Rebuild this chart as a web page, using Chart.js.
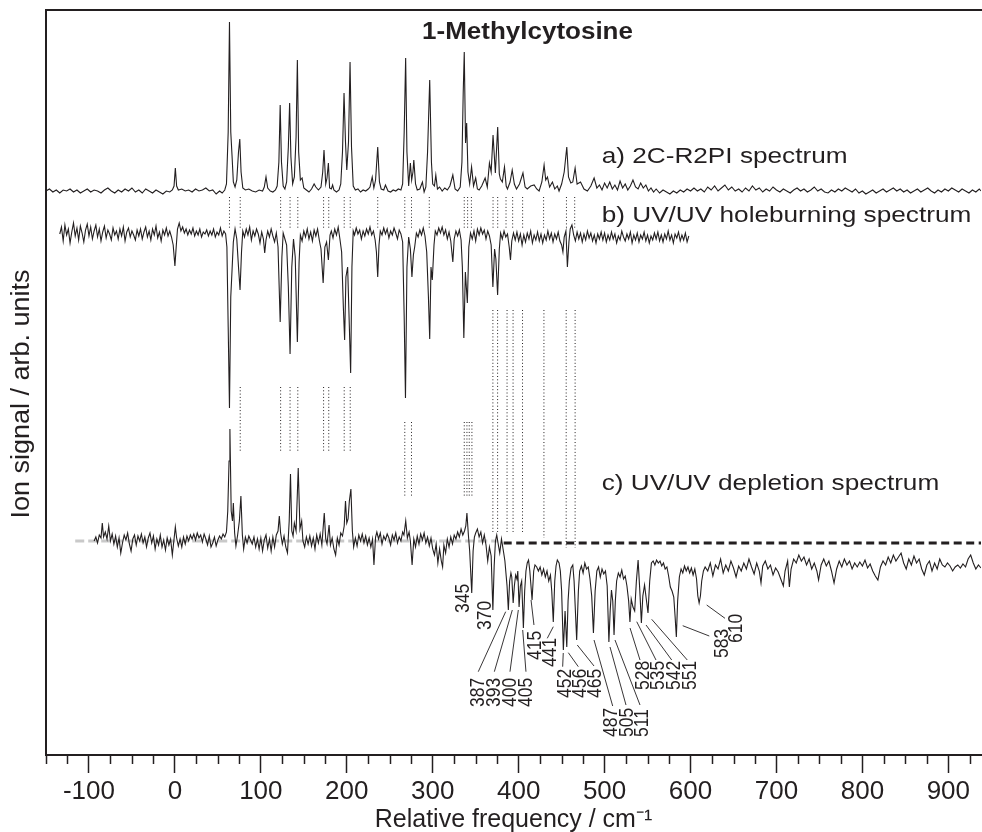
<!DOCTYPE html>
<html>
<head>
<meta charset="utf-8">
<script src="https://cdn.jsdelivr.net/npm/chart.js@4.4.0/dist/chart.umd.min.js"></script>
<style>
  html, body { margin: 0; padding: 0; background: #ffffff; }
  #wrap { width: 982px; height: 832px; }
</style>
</head>
<body>
<div id="wrap"><canvas id="c" width="982" height="832"></canvas></div>
<script>
// ---------------- DATA (frequency in cm-1, signal relative to each trace's own baseline) ----------------
// a) 2C-R2PI spectrum
const r2piSpectrum = [
[-150,1],[-146,3],[-142,0],[-138,2],[-134,-1],[-130,2],[-126,1],[-122,3],[-118,0],[-114,2],[-110,-1],[-106,1],[-102,3],[-98,0],[-94,2],[-90,1],[-86,-1],[-82,2],[-78,4],[-74,1],[-70,-1],[-66,2],[-62,0],[-58,3],[-54,1],[-50,4],[-46,0],[-42,2],[-38,-1],[-34,3],[-30,1],[-26,-1],[-22,2],[-18,0],[-14,-2],[-10,1],[-6,0],[-3,2],
[-1,6],[0.5,24],[2,6],[4,2],[8,3],[12,1],[16,2],[20,0],[24,3],[28,1],[32,2],[36,4],[40,1],[44,2],[48,-2],[52,1],[55,-1],[58,2],
[60,8],[62,60],[63.5,170],[65,60],[66.5,36],[68,10],[70,5],[72,12],[74,40],[75.5,53],[77,20],[79,4],[82,2],[86,3],[90,1],[94,0],[98,2],[102,1],[104,5],[106,15],[108,4],[111,1],[114,0],[117,2],[119,6],[121,30],[122.5,87],[124,30],[126,6],[128,3],[130,10],[132,45],[133.5,89],[135,35],[137,8],[139,15],[141,55],[142.5,132],[144,40],[146,12],[148,14],[150,4],[153,2],[156,0],[159,3],[162,8],[164,5],[167,2],[170,5],[172,20],[173.5,42],[175.5,8],[177,14],[178.6,29],[180,4],[182,3],[183.5,7],[185,2],[188,0],[191,2],[193,8],[195,40],[196.8,99],[198.5,50],[200,22],[202,50],[203.8,130],[205.5,45],[207.5,6],[210,2],[213,3],[216,0],[219,2],[222,1],[225,3],[227,5],[229.6,15],[231.5,4],[233.5,12],[236,45],[238,10],[240,3],[243,2],[245,7],[248,1],[251,0],[254,2],[257,1],[260,3],[263,2],[265,8],[266.8,60],[268.5,134],[270,40],[272,6],[274,29],[275.5,12],[277,20],[278,32],[280,8],[282,2],[285,3],[288,10],[290,0],[292,5],[294,40],[296.5,112],[298.5,30],[300,8],[302,6],[303.6,17],[305.5,3],[308,5],[311,1],[314,4],[317,2],[320,6],[323.4,17],[326,3],[329,1],[332,5],[334,30],[335.5,100],[336.7,140],[338.2,49],[339.5,69],[341,20],[343,8],[345.2,25],[347.5,6],[350,14],[352,3],[354,2],[357,6],[361,14],[363.5,5],[366,29],[368,20],[370.2,57],[372.9,19],[375.6,65],[377.5,18],[378.8,13],[381,10],[383.5,25],[385.5,6],[387,3],[390,10],[392.5,22],[395,8],[397.5,3],[401,8],[405,19],[407.5,5],[410,3],[414,6],[418,7],[421,3],[423.8,1],[427,10],[429.6,27],[431.5,12],[433.5,15],[436,5],[439.3,10],[442,3],[445,6],[447,1],[450,8],[453,20],[456,45],[458,15],[460.7,9],[463,10],[465.7,24],[468,8],[472,10],[476,3],[480,1],[484,6],[487.8,14],[491,4],[494,7],[497,2],[500,9],[503,4],[506,10],[509,3],[512,7],[515,2],[518,11],[521,4],[524,8],[527,2],[530,6],[533,12],[536,5],[539,3],[542,9],[545,4],[548,7],[551,1],[554,4],[557,0],[560,3],[564,-1],[568,2],[572,0],[576,-2],[580,1],[584,-1],[588,2],[592,0],[596,3],[600,1],[604,4],[608,1],[612,3],[616,0],[620,5],[624,2],[628,6],[632,1],[636,4],[640,7],[644,2],[648,5],[652,1],[656,3],[660,0],[664,4],[668,1],[672,6],[676,2],[680,4],[684,0],[688,3],[692,1],[696,5],[700,2],[704,0],[708,3],[712,1],[716,-1],[720,2],[724,4],[728,1],[732,3],[736,0],[740,2],[744,5],[748,1],[752,3],[756,0],[760,-1],[764,2],[768,0],[772,3],[776,1],[780,4],[784,2],[788,0],[792,3],[796,-1],[800,1],[804,-2],[808,0],[812,2],[816,-1],[820,1],[824,3],[828,0],[832,2],[836,4],[840,1],[844,3],[848,0],[852,2],[856,-1],[860,1],[864,3],[868,0],[872,2],[876,4],[880,1],[884,-1],[888,2],[892,0],[896,3],[900,1],[904,4],[908,2],[912,0],[916,3],[920,1],[924,-1],[928,2],[932,0],[936,3],[938,1]
];

// b) UV/UV holeburning spectrum
const holeburnSpectrum = [
[-134,3],[-132,10],[-130,-4],[-128,12],[-126,2],[-124,8],[-122,-6],[-120,5],[-118,14],[-116,1],[-114,9],[-112,-3],[-110,11],[-108,4],[-106,-5],[-104,7],[-102,13],[-100,1],[-98,10],[-96,-2],[-94,6],[-92,12],[-90,0],[-88,8],[-86,-4],[-84,5],[-82,11],[-80,-1],[-78,7],[-76,3],[-74,-3],[-72,9],[-70,2],[-68,6],[-66,-2],[-64,8],[-62,1],[-60,10],[-58,-4],[-56,5],[-54,9],[-52,0],[-50,6],[-48,2],[-46,-3],[-44,7],[-42,1],[-40,8],[-38,-2],[-36,5],[-34,10],[-32,0],[-30,6],[-28,-3],[-26,8],[-24,2],[-22,11],[-20,-1],[-18,5],[-16,-4],[-14,7],[-12,2],[-10,9],[-8,1],[-6,6],[-4,0],[-2,-8],[0,-29],[1.5,-10],[3,8],[5,14],[7,6],[9,10],[11,4],[13,8],[15,2],[17,7],[19,3],[21,9],[23,1],[25,6],[27,2],[29,8],[31,0],[33,5],[35,3],[37,7],[39,1],[41,6],[43,2],[45,8],[47,0],[49,5],[51,2],[53,9],[55,1],[57,6],[59,3],
[60.5,-10],[62,-90],[63.5,-171],[65,-60],[66.5,-33],[68,-5],[70,8],[72,-2],[74,-30],[75.8,-53],[77.5,-15],[79,6],[81,0],[83,8],[85,2],[87,10],[89,-3],[91,6],[93,1],[95,8],[97,3],[99,-6],[101,5],[103,-2],[104.5,-16],[106,-3],[108,6],[110,0],[112,8],[114,1],[116,-5],[118,4],[120,-10],[122.5,-85],[124.5,-20],[126,4],[128,-2],[130,-8],[132,-50],[134,-117],[136,-30],[138,-2],[140,-20],[142.5,-105],[144.5,-25],[146,2],[148,-4],[150,6],[152,0],[154,8],[156,-2],[158,5],[160,-4],[162,7],[164,1],[166,8],[168,-3],[170,-12],[172.5,-46],[174.5,-10],[176.5,-5],[178.6,-23],[180.5,2],[182,6],[184,-1],[186,8],[188,2],[190,10],[192,-2],[194,-15],[196,-70],[197.5,-103],[199,-40],[201,-30],[203,-90],[204.5,-136],[206,-30],[207.5,6],[209,2],[211,9],[213,3],[215,7],[217,-2],[219,6],[221,1],[223,8],[225,3],[227,10],[229,2],[231,6],[233,-3],[234.5,-15],[236,-40],[237.5,-8],[239,6],[241,2],[243,9],[245,3],[247,8],[249,-1],[251,6],[253,2],[255,9],[257,4],[259,-2],[261,7],[263,3],[265,-5],[266.8,-80],[268.3,-161],[270,-30],[272,0],[274,-12],[275.8,-40],[277.5,-18],[279,-10],[281,4],[283,0],[285,7],[287,2],[289,9],[291,1],[293,-15],[295,-60],[296.5,-102],[298,-30],[299.5,-43],[301.5,-8],[303,6],[305,2],[307,9],[309,4],[311,10],[313,2],[315,7],[317,-2],[319,5],[321,-4],[323.4,-25],[325,-2],[327,6],[329,1],[331,7],[333,-3],[334.5,-30],[336.2,-101],[338,-35],[340.3,-66],[342,-10],[344,4],[346,-2],[348,6],[350,-4],[352,8],[354,2],[356,9],[358,3],[360,7],[362,-2],[364,6],[366,1],[368,-8],[370,-50],[372,-12],[373.5,-22],[375.5,-58],[377.5,-12],[379,4],[381,-2],[383,6],[385,0],[387,3],[389,-10],[390.5,-23],[392,-4],[394,4],[396,-3],[398,5],[400,-4],[402,3],[404,-8],[406,2],[408,-5],[410,4],[412,-2],[414,6],[416,-6],[418,2],[420,-3],[422,5],[424,-4],[426,3],[428,-6],[430,2],[432,-3],[434,6],[436,-2],[438,4],[440,-5],[442,3],[444,-2],[446,5],[448,-4],[450,-8],[451.5,-15],[453,0],[455,6],[456.7,-30],[458.5,-5],[460,8],[462,12],[464,2],[466,-4],[468,5],[470,-2],[472,4],[474,-5],[476,3],[478,-3],[480,6],[482,-1],[484,4],[486,-4],[488,2],[490,-6],[492,3],[494,-2],[496,5],[498,-3],[500,4],[502,-5],[504,2],[506,-3],[508,5],[510,-2],[512,3],[514,-6],[516,1],[518,-3],[520,6],[522,0],[524,-4],[526,3],[528,-2],[530,5],[532,-6],[534,2],[536,-3],[538,4],[540,-5],[542,2],[544,-2],[546,5],[548,-4],[550,2],[552,-6],[554,1],[556,-3],[558,4],[560,-2],[562,5],[564,-4],[566,2],[568,-5],[570,3],[572,-2],[574,6],[576,-3],[578,2],[580,-6],[582,3],[584,-1],[586,5],[588,-4],[590,2],[592,-3],[594,4],[596,-5],[598,1]
];

// c) UV/UV depletion spectrum
const depletionSpectrum = [
[-94,0],[-92,4],[-90,-2],[-88,6],[-86,3],[-84.5,18],[-83,4],[-81,9],[-79,2],[-77,15],[-75,0],[-73,7],[-71,-3],[-69,5],[-67,-6],[-65,3],[-63,-12],[-61,-2],[-59,6],[-57,1],[-55,8],[-53,-3],[-51,-10],[-49,2],[-47,6],[-45,-4],[-43,5],[-41,0],[-39,7],[-37,-2],[-35,4],[-33,-6],[-31,3],[-29,8],[-27,-2],[-25,5],[-23,-8],[-21,2],[-19,-4],[-17,6],[-15,-6],[-13,1],[-11,-9],[-9,3],[-7,-4],[-5,2],[-3,-14],[-1,2],[0.5,14],[2,3],[4,-5],[6,2],[8,-6],[10,4],[12,-3],[14,5],[16,0],[18,6],[20,2],[22,7],[24,1],[26,8],[28,3],[30,6],[32,-1],[34,7],[36,2],[38,-4],[40,5],[42,-6],[44,-2],[46,4],[48,-5],[50,1],[52,5],[54,2],[56,7],[58,4],[60,9],
[61.5,30],[63,80],[64,112],[65.5,30],[67,20],[68,38],[69.5,8],[71,-5],[73,6],[75,20],[76.8,45],[78.5,6],[80,-8],[82,4],[84,-2],[86,5],[88,1],[90,-3],[92,4],[94,-6],[96,2],[98,-8],[100,3],[102,-10],[104,1],[106,6],[108,-7],[110,2],[112,-10],[114,4],[116,-6],[118,6],[120,10],[121.5,25],[123,8],[125,-3],[127,5],[129,-6],[131,-12],[133,20],[134.5,67],[136,10],[137.5,5],[139,18],[141,10],[143.5,73],[145.5,12],[147.5,20],[149,0],[151,-6],[153,4],[155,-3],[157,5],[159,-5],[161,3],[163,-8],[165,6],[167,-2],[169,7],[171,-4],[173.8,28],[175.5,2],[177,-3],[179.4,16],[181,-4],[183,3],[185,-8],[187,-14],[189,3],[191,-4],[193,8],[195,5],[197,15],[198.5,40],[200,18],[201.5,22],[203,40],[204.8,52],[206.5,10],[208,-6],[210,3],[212,-5],[214,6],[216,0],[218,7],[220,-2],[222,5],[224,-4],[226,3],[228,-6],[230,2],[231.6,-24],[233.5,4],[235,9],[237,2],[239,8],[241,-3],[243,5],[245,1],[247,7],[249,3],[251,-4],[253,6],[255,1],[257,8],[259,-2],[261,4],[263,0],[265,9],[266.5,6],[268.6,20],[270.5,3],[272.5,9],[274,0],[276,-24],[278,2],[280,-6],[282,5],[284,-3],[286,7],[288,1],[290,8],[292,-2],[294,4],[296,-5],[298,3],[300,-8],[302,-14],[304,-3],[306,-22],[308,-8],[310,-20],[311.5,-26],[313,-4],[315,-12],[317,2],[319,-6],[321,4],[323,-3],[325,6],[327,2],[329,9],[331,4],[333,12],[335,6],[337,10],[338.5,15],[339.8,28],[341.5,6],[343,-10],[345.4,-52],[347,-10],[348.5,4],[350,8],[352,12],[354,4],[356,9],[358,-2],[360,6],[362,-4],[364,-20],[366,-6],[368,-15],[370,-69],[371.5,-25],[373,0],[374.5,6],[376,-2],[378,-12],[380,2],[382.6,-12],
[384,-20],[385.5,-35],[386.5,-45],[388,-69],[389.5,-40],[391,-32],[392,-36],[393.6,-62],[395,-45],[396.5,-34],[398,-38],[399,-30],[400.5,-66],[402,-45],[403.5,-40],[405.5,-87],[407,-50],[408.5,-30],[410,-22],[411.5,-19],[413,-30],[415.6,-59],[417.5,-30],[419,-24],[421,-26],[423,-30],[425,-26],[427,-34],[429,-28],[431,-36],[433,-30],[435,-40],[437,-34],[438.5,-50],[440.3,-81],[442,-40],[443.5,-25],[445,-19],[447,-22],[448.5,-30],[450,-50],[452,-109],[454,-70],[456,-106],[457.5,-60],[459,-40],[461,-27],[463,-24],[464.5,-40],[467.5,-99],[469.5,-50],[471,-30],[473,-25],[475,-32],[477,-22],[479,-28],[481,-26],[483,-38],[485,-55],[487,-92],[489,-50],[491,-30],[493,-26],[495,-36],[497,-28],[499,-33],[501,-30],[503,-45],[505,-101],[506.5,-70],[508,-49],[509.5,-60],[511,-94],[512.5,-60],[514,-40],[516,-32],[518,-36],[520,-29],[522,-38],[524,-35],[526,-45],[528,-60],[529.5,-81],[531,-58],[533,-66],[535,-70],[537,-40],[539,-19],[541,-50],[542.8,-82],[544.5,-55],[546.5,-44],[548.5,-58],[550.5,-72],[552.5,-40],[554.5,-22],[556.5,-20],[558.5,-24],[560.5,-19],[562.5,-22],[564.5,-20],[566.5,-25],[568.5,-22],[570.5,-28],[572.5,-26],[574.5,-35],[576.5,-46],[578.5,-50],[580.5,-56],[582,-75],[583.5,-96],[585,-60],[587,-36],[589,-28],[591,-32],[593,-25],[595,-30],[597,-26],[599,-32],[601,-27],[603,-34],[605,-28],[607,-38],[608.5,-55],[610,-62],[611.5,-55],[613,-40],[615,-30],[617,-26],
[620,-30],[623,-22],[626,-35],[629,-24],[632,-28],[635,-18],[638,-32],[641,-24],[644,-30],[647,-20],[650,-27],[653,-36],[656,-25],[659,-30],[662,-22],[665,-28],[668,-18],[671,-26],[674,-33],[677,-22],[680,-30],[682,-42],[684,-25],[687,-20],[690,-28],[693,-24],[696,-34],[699,-27],[702,-31],[705,-38],[708,-45],[710,-30],[713,-20],[715,-46],[717,-28],[720,-18],[723,-22],[726,-14],[729,-20],[732,-16],[735,-24],[738,-18],[741,-28],[744,-22],[747,-30],[749,-39],[752,-24],[755,-18],[758,-25],[761,-20],[764,-30],[767,-42],[770,-28],[773,-20],[776,-26],[779,-18],[782,-24],[785,-20],[788,-28],[791,-22],[794,-26],[797,-21],[800,-25],[803,-19],[806,-27],[809,-23],[812,-30],[815,-35],[818,-39],[821,-26],[824,-20],[827,-24],[830,-16],[833,-22],[836,-14],[839,-20],[842,-16],[845,-12],[848,-22],[851,-28],[854,-18],[857,-24],[860,-15],[863,-22],[866,-18],[869,-28],[872,-34],[875,-24],[878,-20],[881,-30],[884,-22],[887,-28],[890,-18],[893,-24],[896,-26],[899,-22],[902,-25],[905,-30],[908,-26],[911,-24],[914,-27],[917,-23],[920,-26],[923,-18],[926,-14],[929,-22],[932,-28],[935,-24],[938,-27]
];

// assignment (dotted) line frequencies
const assignAB = [63.5,76,123,134,143,173,179,197,204,236,267.5,275.3,296,336.7,340.6,345,370.2,375.6,385.3,393,404.6,429,455.6,465.2];
const assignBC1 = [76,123,134,143,173,179,197,204];
const assignBC2 = [267.5,275.3,336.7,339.8,342.5,345.6];
const assignC1 = [370,375.5,386.5,393.5,404.5];
const assignC2 = [429.4];
const assignC3 = [455.3,465.7];

// depletion peak labels
const peakLabels = ['345','370','387','393','400','405','415','441','452','456','465','487','505','511','528','535','542','551','583','610'];

// x-axis tick labels
const majorTicks = [-100,0,100,200,300,400,500,600,700,800,900];

// ---------------- LAYOUT (positions in axis units; not data) ----------------
const X_MIN = -150, X_MAX = 938, Y_MIN = 0, Y_MAX = 745;
const BASE_A = 563, BASE_B = 518, BASE_C = 214;
const GREY_BASE = [-116, 376, 214];
const BLACK_BASE = [382.6, 938, 212];
// [text x, text bottom y, leader x1, y1, x2, y2]
const labelLayout = [
 [335.6,142,null],[360.8,125,null],
 [353.0,48,353.0,83.3,384.9,143.3],[371.7,48,371.7,83.3,392.6,145],[389.9,48,389.9,83.3,399.6,145],[408.5,48,408.5,83.3,404.7,125],
 [419.0,95,417.8,130,414.4,155],[436.5,88,433.3,116.7,440.3,128.3],
 [453.9,57,451.2,88.3,451.9,102],[471.4,57,469.4,88.3,457.8,102.3],[488.8,57,487.7,89,468.2,110],
 [508.3,18,509.4,49,487.7,115],[526.4,18,524.9,50,506.3,108],[543.9,18,541.2,50,512.1,115],
 [545.0,65,541.2,95,529.6,127],[562.5,65,559.8,95,537.4,133.3],[581.1,65,578.1,95,548.2,130],[600.2,65,596.2,95,554.8,135.7],
 [637.4,97,621.8,119,590.9,129.3],[653.7,112,640.1,136.7,618.8,150]
];

const INK = '#231f20';
const FONT = '"Liberation Sans", Arial, Helvetica, sans-serif';

const pts = (pairs, base) => pairs.map(([f, s]) => ({ x: f, y: base + s }));
function vlines(freqs, y1, y2) {
  const out = [];
  freqs.forEach(f => { out.push({ x: f, y: y1 }, { x: f, y: y2 }, { x: f, y: null }); });
  return out;
}
function leaders() {
  const out = [];
  labelLayout.forEach(l => { if (l[2] !== null && l.length > 3) out.push({ x: l[2], y: l[3] }, { x: l[4], y: l[5] }, { x: l[4], y: null }); });
  return out;
}

const traceStyle = { borderColor: INK, borderWidth: 1.1, pointRadius: 0, showLine: true, tension: 0, fill: false };
const dotStyle = { borderColor: INK, borderWidth: 1, borderDash: [1, 2.3], pointRadius: 0, showLine: true, spanGaps: false, fill: false };

const datasets = [
  Object.assign({ label: 'grey baseline', data: [{x: GREY_BASE[0], y: GREY_BASE[2]}, {x: GREY_BASE[1], y: GREY_BASE[2]}], borderColor: '#c9c9c9', borderWidth: 3, borderDash: [9, 4], pointRadius: 0, showLine: true, order: 10 }),
  Object.assign({ label: 'a', data: pts(r2piSpectrum, BASE_A), order: 1 }, traceStyle),
  Object.assign({ label: 'b', data: pts(holeburnSpectrum, BASE_B), order: 1 }, traceStyle),
  Object.assign({ label: 'c', data: pts(depletionSpectrum, BASE_C), order: 1 }, traceStyle),
  Object.assign({ label: 'black baseline', data: [{x: BLACK_BASE[0], y: BLACK_BASE[2]}, {x: BLACK_BASE[1], y: BLACK_BASE[2]}], borderColor: INK, borderWidth: 3, borderDash: [8, 4.5], pointRadius: 0, showLine: true, order: 2 }),
  Object.assign({ label: 'dots ab', data: vlines(assignAB, 558, 527), order: 3 }, dotStyle),
  Object.assign({ label: 'dots bc1', data: vlines(assignBC1, 368, 302), order: 3 }, dotStyle),
  Object.assign({ label: 'dots bc2', data: vlines(assignBC2, 333, 258), order: 3 }, dotStyle),
  Object.assign({ label: 'dots c1', data: vlines(assignC1, 445, 223), order: 3 }, dotStyle),
  Object.assign({ label: 'dots c2', data: vlines(assignC2, 445, 217), order: 3 }, dotStyle),
  Object.assign({ label: 'dots c3', data: vlines(assignC3, 445, 207), order: 3 }, dotStyle),
  { label: 'leaders', data: leaders(), borderColor: INK, borderWidth: 0.9, pointRadius: 0, showLine: true, spanGaps: false, order: 2 }
];

function drawText(ctx, txt, px, py, font, align, baseline, sx, rot) {
  ctx.save();
  ctx.translate(px, py);
  ctx.scale(sx, 1);
  if (rot) ctx.rotate(-Math.PI / 2);
  ctx.font = font;
  ctx.textAlign = align;
  ctx.textBaseline = baseline;
  ctx.fillStyle = INK;
  ctx.fillText(txt, 0, 0);
  ctx.restore();
}

const annotatePlugin = {
  id: 'annotate',
  afterDraw(chart) {
    const { ctx, chartArea } = chart;
    const xs = chart.scales.x, ys = chart.scales.y;
    const X = f => xs.getPixelForValue(f), Y = v => ys.getPixelForValue(v);
    // minor ticks
    ctx.save();
    ctx.strokeStyle = INK; ctx.lineWidth = 1.5;
    xs.ticks.forEach(t => {
      if (t.value % 100 !== 0) {
        const px = Math.round(X(t.value)) + 0.5;
        ctx.beginPath(); ctx.moveTo(px, chartArea.bottom); ctx.lineTo(px, chartArea.bottom + 9); ctx.stroke();
      }
    });
    ctx.restore();
    // title & trace captions
    drawText(ctx, '1-Methylcytosine', X(410.3), Y(715.7), 'bold 23px ' + FONT, 'center', 'alphabetic', 1.13, false);
    drawText(ctx, 'a) 2C-R2PI spectrum', X(496.6), Y(592), '22px ' + FONT, 'left', 'alphabetic', 1.19, false);
    drawText(ctx, 'b) UV/UV holeburning spectrum', X(496.6), Y(533.3), '22px ' + FONT, 'left', 'alphabetic', 1.19, false);
    drawText(ctx, 'c) UV/UV depletion spectrum', X(496.6), Y(265), '22px ' + FONT, 'left', 'alphabetic', 1.19, false);
    // y axis title
    drawText(ctx, 'Ion signal / arb. units', 22, 394, '27px ' + FONT, 'center', 'middle', 0.95, true);
    // peak labels
    peakLabels.forEach((t, i) => {
      const l = labelLayout[i];
      drawText(ctx, t, X(l[0]), Y(l[1]), '17.5px ' + FONT, 'left', 'middle', 1.15, true);
    });
  }
};

new Chart(document.getElementById('c'), {
  type: 'scatter',
  data: { datasets },
  plugins: [annotatePlugin],
  options: {
    responsive: false,
    animation: false,
    events: [],
    layout: { padding: { left: 46, right: 1, top: 10, bottom: 0 } },
    plugins: { legend: { display: false }, tooltip: { enabled: false }, title: { display: false } },
    scales: {
      x: {
        type: 'linear', position: 'bottom', min: X_MIN, max: X_MAX,
        afterFit: s => { s.height = 77; },
        ticks: {
          stepSize: 25, includeBounds: false, autoSkip: false, maxRotation: 0, minRotation: 0,
          padding: 3, color: INK, font: { family: FONT, size: 26 },
          callback: v => (majorTicks.includes(v) ? String(v) : '')
        },
        grid: { drawOnChartArea: false, drawTicks: true, tickLength: 18, tickWidth: 1.5,
                tickColor: c => (c.tick && majorTicks.includes(c.tick.value) ? INK : 'rgba(0,0,0,0)') },
        border: { display: true, color: INK, width: 2 },
        title: { display: true, text: 'Relative frequency / cm\u207B\u00B9', color: INK, font: { family: FONT, size: 25 }, padding: { top: 0, bottom: -3 } }
      },
      x2: {
        type: 'linear', position: 'top', min: X_MIN, max: X_MAX,
        afterFit: s => { s.height = 0; },
        ticks: { display: false },
        grid: { drawOnChartArea: false, drawTicks: false },
        border: { display: true, color: INK, width: 2 }
      },
      y: {
        type: 'linear', position: 'left', min: Y_MIN, max: Y_MAX,
        afterFit: s => { s.width = 0; },
        ticks: { display: false },
        grid: { drawOnChartArea: false, drawTicks: false },
        border: { display: true, color: INK, width: 2 }
      }
    }
  }
});
</script>
</body>
</html>
